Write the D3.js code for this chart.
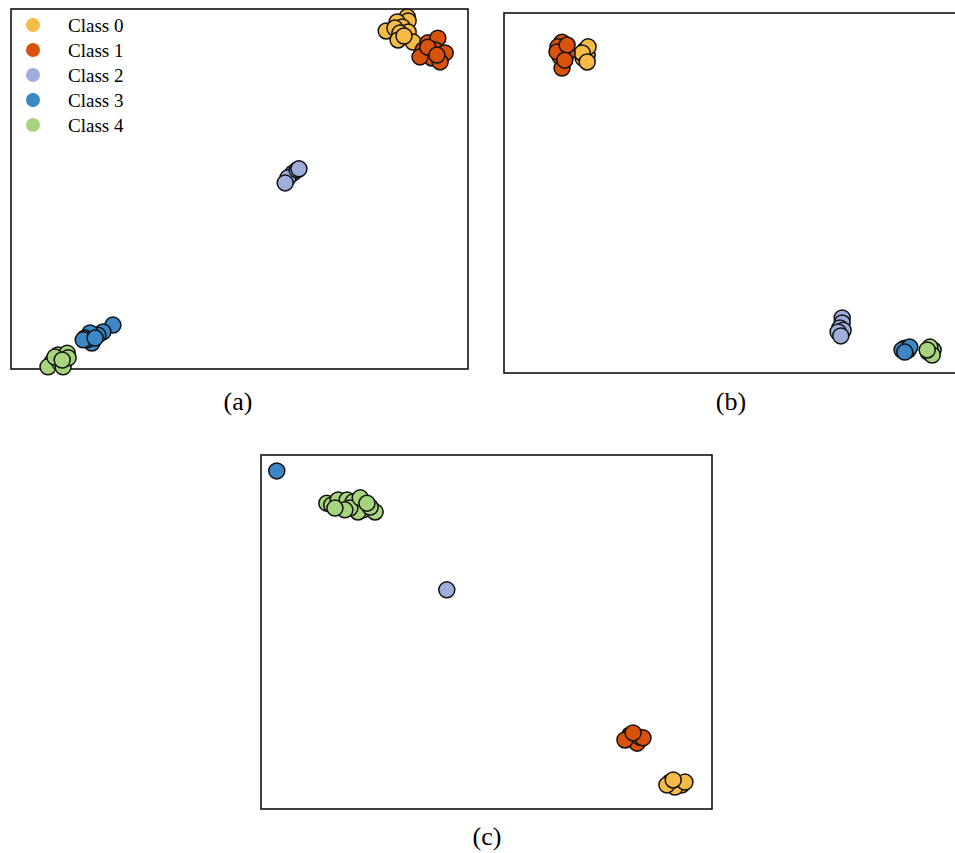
<!DOCTYPE html>
<html>
<head>
<meta charset="utf-8">
<script src="https://cdn.jsdelivr.net/npm/d3@7/dist/d3.min.js"></script>
<style>
  html, body { margin: 0; padding: 0; background: #fff; }
  svg { display: block; }
</style>
</head>
<body>
<svg id="fig" width="955" height="853"></svg>
<script>
// Class names and colours
const classNames = ["Class 0", "Class 1", "Class 2", "Class 3", "Class 4"];
const classColors = ["#F6BB47", "#D9520B", "#9EADDC", "#3C87C6", "#A7D57E"];

// Embedding coordinates for panel (a): [x, y, class]
const embA = [
  [82.1, 93.9, 0], [86.7, 97.8, 0], [86.9, 96.7, 0], [84.5, 96.4, 0], [85.6, 95.0, 0],
  [84.0, 94.7, 0], [86.9, 93.6, 0], [85.1, 93.3, 0], [84.7, 91.4, 0], [88.0, 90.8, 0], [86.0, 92.5, 0],
  [91.2, 90.6, 1], [93.4, 91.9, 1], [90.2, 88.6, 1], [92.8, 88.6, 1], [95.0, 87.8, 1],
  [92.1, 86.4, 1], [89.5, 86.7, 1], [93.9, 85.3, 1], [91.2, 89.4, 1], [93.2, 87.2, 1],
  [61.7, 54.4, 2], [60.6, 53.1, 2], [60.0, 51.7, 2], [62.6, 55.3, 2], [63.0, 55.6, 2],
  [22.3, 12.2, 3], [20.1, 10.3, 3], [19.0, 9.4, 3], [17.3, 10.0, 3], [16.2, 8.6, 3],
  [17.7, 7.2, 3], [16.6, 8.1, 3], [15.8, 8.1, 3], [18.4, 8.6, 3],
  [10.3, 3.9, 4], [12.3, 4.4, 4], [9.0, 1.9, 4], [8.1, 0.6, 4], [10.7, 1.7, 4],
  [11.4, 0.6, 4], [12.5, 3.1, 4], [9.6, 3.3, 4], [11.2, 2.5, 4]
];

// Embedding coordinates for panel (b)
const embB = [
  [17.7, 89.7, 0], [18.2, 88.3, 0], [17.3, 87.5, 0], [18.4, 90.6, 0], [17.1, 88.9, 0], [18.2, 86.4, 0],
  [12.7, 91.9, 1], [11.8, 90.6, 1], [12.9, 89.2, 1], [12.3, 87.8, 1], [12.7, 84.7, 1],
  [13.8, 88.9, 1], [11.6, 89.2, 1], [13.8, 91.1, 1], [13.3, 86.9, 1],
  [74.0, 15.3, 2], [74.0, 13.9, 2], [73.5, 12.5, 2], [74.2, 11.9, 2], [73.1, 11.4, 2], [73.7, 10.3, 2],
  [87.7, 6.9, 3], [88.4, 6.4, 3], [87.1, 6.4, 3], [88.8, 7.2, 3], [87.7, 5.8, 3],
  [92.8, 5.8, 4], [93.9, 6.4, 4], [93.2, 7.2, 4], [93.7, 5.0, 4], [92.6, 6.4, 4]
];

// Embedding coordinates for panel (c)
const embC = [
  [90.7, 7.6, 0], [93.3, 6.8, 0], [91.8, 6.2, 0], [90.0, 6.8, 0], [94.0, 7.6, 0], [91.4, 8.2, 0],
  [81.8, 20.9, 1], [83.4, 18.6, 1], [80.7, 19.5, 1], [84.0, 20.3, 1], [84.7, 20.1, 1], [82.5, 21.5, 1],
  [41.2, 61.9, 2],
  [3.5, 95.5, 3],
  [14.6, 86.4, 4], [15.7, 85.9, 4], [17.5, 85.3, 4], [17.1, 87.3, 4], [19.1, 87.3, 4],
  [20.4, 86.7, 4], [22.0, 86.4, 4], [22.6, 84.5, 4], [21.5, 83.9, 4], [25.3, 83.9, 4],
  [24.2, 85.3, 4], [19.7, 85.0, 4], [22.0, 87.9, 4], [18.6, 84.5, 4], [23.5, 86.4, 4], [16.4, 85.0, 4]
];

const panelLabels = ["(a)", "(b)", "(c)"];

const svg = d3.select("#fig");
const serif = "'Liberation Serif', 'Times New Roman', serif";

const panels = [
  { data: embA, box: { x: 11, y: 9, w: 457, h: 360 }, label: panelLabels[0], lx: 238, ly: 410, legend: true },
  { data: embB, box: { x: 504, y: 13, w: 457, h: 360 }, label: panelLabels[1], lx: 731, ly: 410, legend: false },
  { data: embC, box: { x: 261, y: 455, w: 451, h: 354 }, label: panelLabels[2], lx: 487, ly: 845, legend: false }
];

panels.forEach(p => {
  const b = p.box;
  const x = d3.scaleLinear().domain([0, 100]).range([b.x, b.x + b.w]);
  const y = d3.scaleLinear().domain([0, 100]).range([b.y + b.h, b.y]);
  const g = svg.append("g");

  g.append("rect")
    .attr("x", b.x).attr("y", b.y)
    .attr("width", b.w).attr("height", b.h)
    .attr("fill", "none")
    .attr("stroke", "#111")
    .attr("stroke-width", 1.6);

  // draw class by class so later classes sit on top
  const sorted = p.data.slice().sort((a, c) => a[2] - c[2]);
  g.selectAll("circle.pt")
    .data(sorted)
    .join("circle")
    .attr("class", "pt")
    .attr("cx", d => x(d[0]))
    .attr("cy", d => y(d[1]))
    .attr("r", 8)
    .attr("fill", d => classColors[d[2]])
    .attr("stroke", "#111")
    .attr("stroke-width", 1.5);

  g.append("text")
    .attr("x", p.lx).attr("y", p.ly)
    .attr("text-anchor", "middle")
    .attr("font-family", serif)
    .attr("font-size", 26)
    .attr("fill", "#000")
    .text(p.label);

  if (p.legend) {
    const lg = g.append("g");
    classNames.forEach((name, i) => {
      const ly = b.y + 16 + i * 25;
      lg.append("circle")
        .attr("cx", b.x + 22).attr("cy", ly)
        .attr("r", 7)
        .attr("fill", classColors[i]);
      lg.append("text")
        .attr("x", b.x + 57).attr("y", ly + 6.5)
        .attr("font-family", serif)
        .attr("font-size", 19)
        .attr("fill", "#000")
        .text(name);
    });
  }
});
</script>
</body>
</html>
